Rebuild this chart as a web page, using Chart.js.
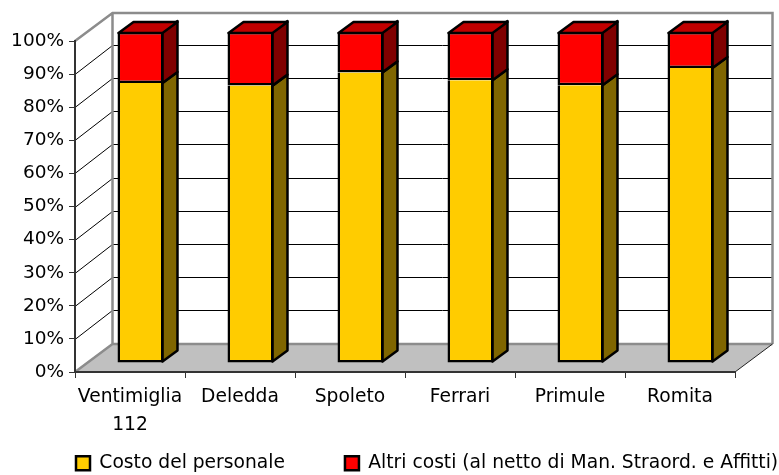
<!DOCTYPE html>
<html><head><meta charset="utf-8">
<style>html,body{margin:0;padding:0;background:#fff}#w{width:779px;height:475px}</style>
<script src="https://cdn.jsdelivr.net/npm/chart.js@4"></script></head>
<body><div id="w"><canvas id="c" width="779" height="475"></canvas></div>
<script>
const categories = [["Ventimiglia","112"],"Deledda","Spoleto","Ferrari","Primule","Romita"];
const costoPersonale = [84.6,83.8,87.8,85.4,83.9,89.1];
const altriCosti = [15.4,16.2,12.2,14.6,16.1,10.9];
const seriesNames = ["Costo del personale","Altri costi (al netto di Man. Straord. e Affitti)"];
const gridValues = [10,20,30,40,50,60,70,80,90];

const WALL = {dx:37.5, dy:-28};
const BAR = {ox:10.5, oy:-9, dx:15, dy:-11};
const sideColors = ["#806600","#800000"];
const topColor = "#c00000";

const depth3d = {
  id:'depth3d',
  beforeLayout(chart){
    const lg=chart.legend;
    if(lg && !lg._patched){
      lg._patched=true;
      const fit=lg.fit;
      lg.fit=function(){this.maxWidth=2000;fit.call(this);this.height=81;};
    }
  },
  afterLayout(chart){
    chart.legend.right=2000;
    chart.scales.x.bottom=475;
    chart.scales.y.left=0;
  },
  beforeDraw(chart){
    const {ctx,chartArea:a,scales:{y}} = chart;
    const L=a.left,R=a.right,T=a.top,B=a.bottom,dx=WALL.dx,dy=WALL.dy;
    ctx.save();
    ctx.fillStyle='#c0c0c0';
    ctx.beginPath();ctx.moveTo(L,B);ctx.lineTo(R,B);ctx.lineTo(R+dx,B+dy);ctx.lineTo(L+dx,B+dy);ctx.closePath();ctx.fill();
    ctx.strokeStyle='#000';ctx.lineWidth=1;
    gridValues.forEach(v=>{
      const p=Math.round(y.getPixelForValue(v))+0.5;
      ctx.beginPath();ctx.moveTo(L,p);ctx.lineTo(L+dx,p-29);ctx.lineTo(R+dx,p-29);ctx.stroke();
    });
    ctx.strokeStyle='#8c8c8c';ctx.lineWidth=2.5;ctx.lineJoin='miter';
    ctx.beginPath();ctx.moveTo(L,T);ctx.lineTo(L+dx,T+dy);ctx.lineTo(R+dx,T+dy);ctx.lineTo(R+dx,B+dy);
    ctx.moveTo(L+dx,T+dy);ctx.lineTo(L+dx,B+dy);ctx.lineTo(R+dx,B+dy);
    ctx.moveTo(L+dx,B+dy);ctx.lineTo(L,B);
    ctx.stroke();
    ctx.strokeStyle='#222';ctx.lineWidth=1;
    ctx.beginPath();ctx.moveTo(R,B);ctx.lineTo(R+dx,B+dy);ctx.stroke();
    ctx.restore();
  },
  beforeDatasetsDraw(chart){
    const ctx=chart.ctx;
    ctx.save();
    ctx.translate(BAR.ox,BAR.oy);
    const m0=chart.getDatasetMeta(0).data,m1=chart.getDatasetMeta(1).data;
    ctx.lineWidth=2.5;ctx.strokeStyle='#000';ctx.lineJoin='round';
    const poly=(pts,fill)=>{ctx.fillStyle=fill;ctx.beginPath();pts.forEach((q,i)=>i?ctx.lineTo(q[0],q[1]):ctx.moveTo(q[0],q[1]));ctx.closePath();ctx.fill();ctx.stroke();};
    [m0,m1].forEach((meta,k)=>{
      meta.forEach(b=>{
        const r=b.x+b.width/2-1, t=b.y, bt=b.base-(k===0?1:0);
        poly([[r,t],[r+BAR.dx,t+BAR.dy],[r+BAR.dx,bt+BAR.dy],[r,bt]],sideColors[k]);
      });
    });
    m1.forEach(b=>{
      const l=b.x-b.width/2+1,r=b.x+b.width/2-1,t=b.y+1;
      poly([[l,t],[r,t],[r+BAR.dx,t+BAR.dy],[l+BAR.dx,t+BAR.dy]],topColor);
    });
  },
  afterDatasetsDraw(chart){ chart.ctx.restore(); }
};

const FONT = "'DejaVu Sans', Verdana, sans-serif";
new Chart(document.getElementById('c'),{
  type:'bar',
  data:{labels:categories,datasets:[
    {label:seriesNames[0],data:costoPersonale,backgroundColor:'#ffcc00',borderColor:'#000',borderWidth:2.5,borderSkipped:'top',clip:false},
    {label:seriesNames[1],data:altriCosti,backgroundColor:'#ff0000',borderColor:'#000',borderWidth:2.5,borderSkipped:false,clip:false}
  ]},
  options:{
    responsive:false,animation:false,
    layout:{padding:{left:16,right:44,top:41,bottom:0}},
    datasets:{bar:{barPercentage:0.418,categoryPercentage:1}},
    plugins:{
      tooltip:{enabled:false},
      legend:{position:'bottom',align:'start',
        labels:{boxWidth:14,boxHeight:14,padding:60,color:'#000',font:{family:FONT,size:18.7}}}
    },
    scales:{
      x:{stacked:true,offset:true,
        grid:{drawOnChartArea:false,offset:true,tickLength:6,color:'#333',tickWidth:1},
        border:{color:'#333',width:2},
        ticks:{color:'#000',padding:6,maxRotation:0,autoSkip:false,font:{family:FONT,size:18.7,lineHeight:1.45}},
        afterFit(s){s.height=22;}},
      y:{stacked:true,min:0,max:100,
        grid:{drawOnChartArea:false,tickLength:6,color:'#333',tickWidth:1},
        border:{color:'#333',width:2},
        ticks:{stepSize:10,autoSkip:false,color:'#000',padding:5,callback:v=>v+'%',font:{family:FONT,size:18.5}},
        afterFit(s){s.width=59;}}
    }
  },
  plugins:[depth3d]
});
</script></body></html>
